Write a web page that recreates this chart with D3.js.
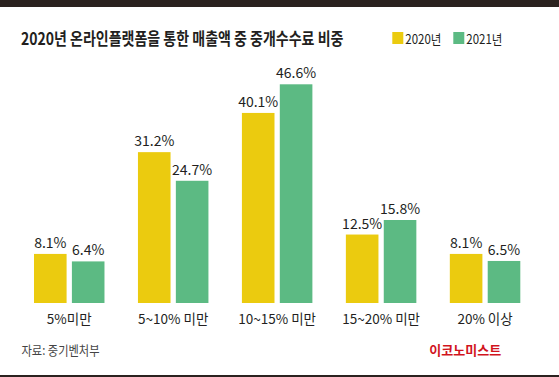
<!DOCTYPE html>
<html>
<head>
<meta charset="utf-8">
<script src="https://cdn.jsdelivr.net/npm/d3@7"></script>
<style>
  html, body { margin: 0; padding: 0; background: #ffffff; }
  svg { display: block; font-family: "Noto Sans CJK KR", "Noto Sans", sans-serif; }
</style>
</head>
<body>
<div id="chart"></div>
<script>
// data
const categories = ["5%미만", "5~10% 미만", "10~15% 미만", "15~20% 미만", "20% 이상"];
const years = ["2020년", "2021년"];
const values2020 = [8.1, 31.2, 40.1, 12.5, 8.1];
const values2021 = [6.4, 24.7, 46.6, 15.8, 6.5];
const colors = ["#ebcb0f", "#5cba83"];

const width = 559, height = 377;
const baseline = 303;

const svg = d3.select("#chart").append("svg")
    .attr("width", width)
    .attr("height", height);

svg.append("rect").attr("width", width).attr("height", height).attr("fill", "#ffffff");

// frame bars top and bottom
svg.append("rect").attr("x", 0).attr("y", 0).attr("width", width).attr("height", 7).attr("fill", "#2b221f");
svg.append("rect").attr("x", 0).attr("y", 375).attr("width", width).attr("height", 2).attr("fill", "#2b221f");

const rows = categories.map(function (c, i) {
    return {category: c, values: [values2020[i], values2021[i]]};
});

const x = d3.scaleBand().domain(categories).range([34, 520.3]).paddingInner(0.322).paddingOuter(0);
const xSub = d3.scaleBand().domain(years).range([0, x.bandwidth()]).paddingInner(0.14);
// bars in the original start a little below zero
const y = d3.scaleLinear().domain([-3.04, 46.6]).range([baseline, 84.3]);

// title (condensed type: narrow font size, stretched vertically)
svg.append("text")
    .attr("transform", "translate(21,44.5) scale(1,1.2)")
    .style("font-size", "14px")
    .style("font-weight", "bold")
    .style("fill", "#231f1e")
    .text("2020년 온라인플랫폼을 통한 매출액 중 중개수수료 비중");

// legend
const legend = svg.append("g").selectAll("g")
    .data(years)
    .enter().append("g")
    .attr("transform", function (d, i) { return "translate(" + (392.3 + i * 61) + ",32)"; });

legend.append("rect")
    .attr("width", 11)
    .attr("height", 12)
    .attr("fill", function (d, i) { return colors[i]; });

legend.append("text")
    .attr("x", 13)
    .attr("y", 11.8)
    .attr("textLength", 36)
    .attr("lengthAdjust", "spacingAndGlyphs")
    .style("font-size", "13px")
    .style("fill", "#231f1e")
    .text(function (d) { return d; });

// bars
const groups = svg.append("g").selectAll("g")
    .data(rows)
    .enter().append("g")
    .attr("transform", function (d) { return "translate(" + x(d.category) + ",0)"; });

groups.selectAll("rect")
    .data(function (d) { return d.values.map(function (v, i) { return {year: years[i], value: v, i: i}; }); })
    .enter().append("rect")
    .attr("x", function (d) { return xSub(d.year); })
    .attr("y", function (d) { return y(d.value); })
    .attr("width", xSub.bandwidth())
    .attr("height", function (d) { return baseline - y(d.value); })
    .attr("fill", function (d) { return colors[d.i]; });

groups.selectAll("text.value")
    .data(function (d) { return d.values.map(function (v, i) { return {year: years[i], value: v}; }); })
    .enter().append("text")
    .attr("class", "value")
    .attr("x", function (d) { return xSub(d.year) + xSub.bandwidth() / 2; })
    .attr("y", function (d) { return y(d.value) - 6; })
    .attr("text-anchor", "middle")
    .style("font-size", "14px")
    .style("fill", "#231f1e")
    .text(function (d) { return d.value.toFixed(1) + "%"; });

// category labels
svg.append("g").selectAll("text")
    .data(categories)
    .enter().append("text")
    .attr("x", function (d) { return x(d) + x.bandwidth() / 2; })
    .attr("y", 324)
    .attr("text-anchor", "middle")
    .style("font-size", "13.5px")
    .style("fill", "#231f1e")
    .text(function (d) { return d; });

// source and logo
svg.append("text")
    .attr("x", 21.5)
    .attr("y", 354.5)
    .attr("textLength", 78)
    .attr("lengthAdjust", "spacingAndGlyphs")
    .style("font-size", "13px")
    .style("fill", "#444444")
    .text("자료: 중기벤처부");

svg.append("text")
    .attr("x", 429.3)
    .attr("y", 354.5)
    .attr("textLength", 72)
    .attr("lengthAdjust", "spacingAndGlyphs")
    .style("font-size", "13px")
    .style("font-weight", "bold")
    .style("fill", "#d1141d")
    .text("이코노미스트");
</script>
</body>
</html>
